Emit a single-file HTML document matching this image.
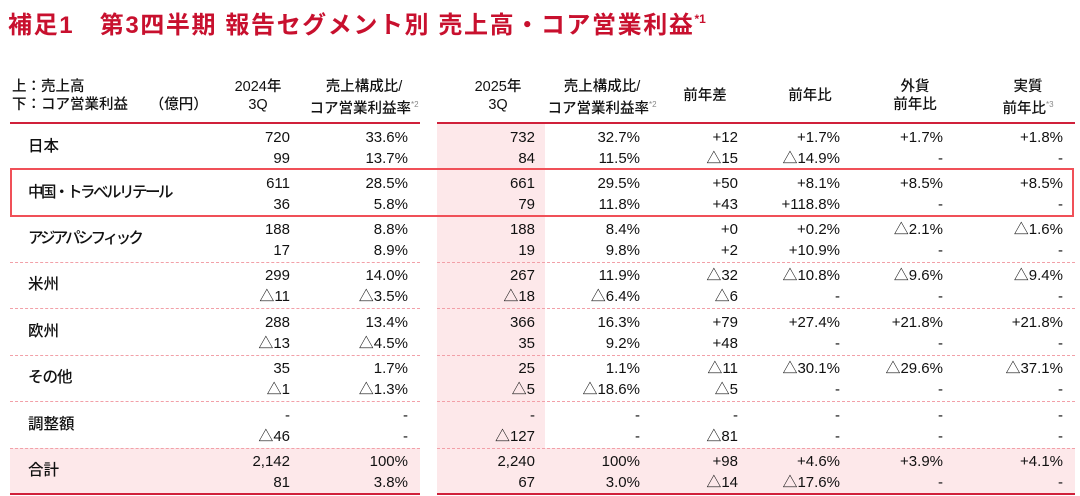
<!DOCTYPE html>
<html><head><meta charset="utf-8"><style>
*{margin:0;padding:0;box-sizing:border-box}
body{width:1080px;height:496px;background:#fff;position:relative;overflow:hidden;font-family:"Liberation Sans","Noto Sans CJK JP",sans-serif;color:#222}
.t{position:absolute;left:8px;top:5px;font-size:24px;font-weight:bold;color:#c8102e;letter-spacing:1.6px;white-space:nowrap}
.t sup{font-size:12px;vertical-align:10px;letter-spacing:0}
.h{position:absolute;font-size:14.5px;font-weight:500;line-height:18px;text-align:center;white-space:nowrap;color:#111}
.h sup{font-size:8px;color:#888;font-weight:normal;vertical-align:6px}
.pink{position:absolute;left:437px;top:124px;width:108px;height:324px;background:#fde8ea}
.tot{position:absolute;top:448px;height:46px;background:#fde8ea}
.rl{position:absolute;top:122px;height:2px;background:#d0203a}
.bl{position:absolute;top:493px;height:2px;background:#d0203a}
.dl{position:absolute;height:0;border-top:1px dashed #f2a0a8}
.r{position:absolute;left:0;width:1080px;height:46px}
.r .lab{position:absolute;left:28px;top:13px;font-size:15.5px;font-weight:500;line-height:20px;white-space:nowrap;color:#111}
.r span{position:absolute;font-size:15px;line-height:20px;text-align:right;white-space:nowrap;color:#111}
.a{top:4px}.b{top:25px}
.c1{right:790px}.c2{right:672px}.c3{right:545px}.c4{right:440px}.c5{right:342px}.c6{right:240px}.c7{right:137px}.c8{right:17px}
.box{position:absolute;left:10px;top:168px;width:1064px;height:49px;border:2px solid #f05058}
</style></head><body>
<div class="t">補足1　第3四半期 報告セグメント別 売上高・コア営業利益<sup>*1</sup></div>
<div class="h" style="left:12px;top:78px;text-align:left">上：売上高<br>下：コア営業利益　　（億円）</div>
<div class="h" style="left:222px;top:78px;width:72px">2024年<br>3Q</div>
<div class="h" style="left:306px;top:78px;width:116px">売上構成比/<br>コア営業利益率<sup>*2</sup></div>
<div class="h" style="left:462px;top:78px;width:72px">2025年<br>3Q</div>
<div class="h" style="left:544px;top:78px;width:116px">売上構成比/<br>コア営業利益率<sup>*2</sup></div>
<div class="h" style="left:670px;top:87px;width:70px">前年差</div>
<div class="h" style="left:775px;top:87px;width:70px">前年比</div>
<div class="h" style="left:880px;top:78px;width:70px">外貨<br>前年比</div>
<div class="h" style="left:988px;top:78px;width:80px">実質<br>前年比<sup>*3</sup></div>

<div class="pink"></div>
<div class="tot" style="left:10px;width:410px"></div>
<div class="tot" style="left:437px;width:638px"></div>
<div class="rl" style="left:10px;width:410px"></div>
<div class="rl" style="left:437px;width:638px"></div>
<div class="bl" style="left:10px;width:410px"></div>
<div class="bl" style="left:437px;width:638px"></div>

<div class="dl" style="left:10px;width:410px;top:262px"></div><div class="dl" style="left:437px;width:638px;top:262px"></div>
<div class="dl" style="left:10px;width:410px;top:308px"></div><div class="dl" style="left:437px;width:638px;top:308px"></div>
<div class="dl" style="left:10px;width:410px;top:355px"></div><div class="dl" style="left:437px;width:638px;top:355px"></div>
<div class="dl" style="left:10px;width:410px;top:401px"></div><div class="dl" style="left:437px;width:638px;top:401px"></div>
<div class="dl" style="left:10px;width:410px;top:448px"></div><div class="dl" style="left:437px;width:638px;top:448px"></div>

<div class="r" style="top:124px"><div class="lab">日本</div>
<span class="a c1">720</span><span class="b c1">99</span><span class="a c2">33.6%</span><span class="b c2">13.7%</span>
<span class="a c3">732</span><span class="b c3">84</span><span class="a c4">32.7%</span><span class="b c4">11.5%</span>
<span class="a c5">+12</span><span class="b c5">△15</span><span class="a c6">+1.7%</span><span class="b c6">△14.9%</span>
<span class="a c7">+1.7%</span><span class="b c7">-</span><span class="a c8">+1.8%</span><span class="b c8">-</span></div>

<div class="r" style="top:170px"><div class="lab" style="letter-spacing:-2.5px">中国・トラベルリテール</div>
<span class="a c1">611</span><span class="b c1">36</span><span class="a c2">28.5%</span><span class="b c2">5.8%</span>
<span class="a c3">661</span><span class="b c3">79</span><span class="a c4">29.5%</span><span class="b c4">11.8%</span>
<span class="a c5">+50</span><span class="b c5">+43</span><span class="a c6">+8.1%</span><span class="b c6">+118.8%</span>
<span class="a c7">+8.5%</span><span class="b c7">-</span><span class="a c8">+8.5%</span><span class="b c8">-</span></div>

<div class="r" style="top:216px"><div class="lab" style="letter-spacing:-2.8px">アジアパシフィック</div>
<span class="a c1">188</span><span class="b c1">17</span><span class="a c2">8.8%</span><span class="b c2">8.9%</span>
<span class="a c3">188</span><span class="b c3">19</span><span class="a c4">8.4%</span><span class="b c4">9.8%</span>
<span class="a c5">+0</span><span class="b c5">+2</span><span class="a c6">+0.2%</span><span class="b c6">+10.9%</span>
<span class="a c7">△2.1%</span><span class="b c7">-</span><span class="a c8">△1.6%</span><span class="b c8">-</span></div>

<div class="r" style="top:262px"><div class="lab">米州</div>
<span class="a c1">299</span><span class="b c1">△11</span><span class="a c2">14.0%</span><span class="b c2">△3.5%</span>
<span class="a c3">267</span><span class="b c3">△18</span><span class="a c4">11.9%</span><span class="b c4">△6.4%</span>
<span class="a c5">△32</span><span class="b c5">△6</span><span class="a c6">△10.8%</span><span class="b c6">-</span>
<span class="a c7">△9.6%</span><span class="b c7">-</span><span class="a c8">△9.4%</span><span class="b c8">-</span></div>

<div class="r" style="top:309px"><div class="lab">欧州</div>
<span class="a c1">288</span><span class="b c1">△13</span><span class="a c2">13.4%</span><span class="b c2">△4.5%</span>
<span class="a c3">366</span><span class="b c3">35</span><span class="a c4">16.3%</span><span class="b c4">9.2%</span>
<span class="a c5">+79</span><span class="b c5">+48</span><span class="a c6">+27.4%</span><span class="b c6">-</span>
<span class="a c7">+21.8%</span><span class="b c7">-</span><span class="a c8">+21.8%</span><span class="b c8">-</span></div>

<div class="r" style="top:355px"><div class="lab" style="letter-spacing:-1px">その他</div>
<span class="a c1">35</span><span class="b c1">△1</span><span class="a c2">1.7%</span><span class="b c2">△1.3%</span>
<span class="a c3">25</span><span class="b c3">△5</span><span class="a c4">1.1%</span><span class="b c4">△18.6%</span>
<span class="a c5">△11</span><span class="b c5">△5</span><span class="a c6">△30.1%</span><span class="b c6">-</span>
<span class="a c7">△29.6%</span><span class="b c7">-</span><span class="a c8">△37.1%</span><span class="b c8">-</span></div>

<div class="r" style="top:402px"><div class="lab">調整額</div>
<span class="a c1">-</span><span class="b c1">△46</span><span class="a c2">-</span><span class="b c2">-</span>
<span class="a c3">-</span><span class="b c3">△127</span><span class="a c4">-</span><span class="b c4">-</span>
<span class="a c5">-</span><span class="b c5">△81</span><span class="a c6">-</span><span class="b c6">-</span>
<span class="a c7">-</span><span class="b c7">-</span><span class="a c8">-</span><span class="b c8">-</span></div>

<div class="r" style="top:448px"><div class="lab">合計</div>
<span class="a c1">2,142</span><span class="b c1">81</span><span class="a c2">100%</span><span class="b c2">3.8%</span>
<span class="a c3">2,240</span><span class="b c3">67</span><span class="a c4">100%</span><span class="b c4">3.0%</span>
<span class="a c5">+98</span><span class="b c5">△14</span><span class="a c6">+4.6%</span><span class="b c6">△17.6%</span>
<span class="a c7">+3.9%</span><span class="b c7">-</span><span class="a c8">+4.1%</span><span class="b c8">-</span></div>

<div class="box"></div>
</body></html>
